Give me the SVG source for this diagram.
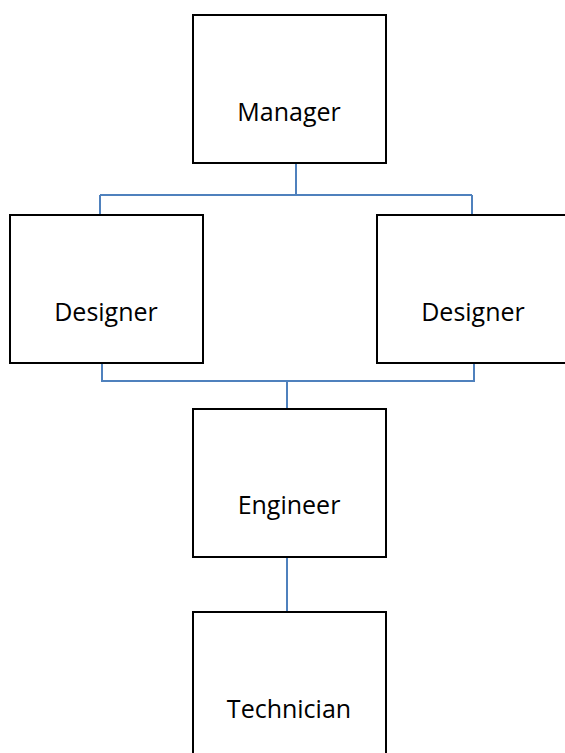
<svg xmlns="http://www.w3.org/2000/svg" width="565" height="753" viewBox="0 0 565 753">
<style>
.box{fill:#fff;stroke:#000;stroke-width:2}
.lbl{font-family:"Open Sans","Liberation Sans",sans-serif;font-size:25px;fill:#000;text-anchor:middle}
.con{fill:none;stroke:#4F81BD;stroke-width:2}
</style>
<rect width="565" height="753" fill="#fff"/>
<g id="connectors">
<path class="con" d="M296 163V195M100 195H472M100 195V222M472 195V222"/>
<path class="con" d="M102 363V381H474V363M287 381V409"/>
<path class="con" d="M287 557V612"/>
</g>
<g id="manager"><rect class="box" x="193" y="15" width="193" height="148"/><text class="lbl" x="289" y="121">Manager</text></g>
<g id="designer-left"><rect class="box" x="10" y="215" width="193" height="148"/><text class="lbl" x="106" y="321">Designer</text></g>
<g id="designer-right"><rect class="box" x="377" y="215" width="193" height="148"/><text class="lbl" x="473" y="321">Designer</text></g>
<g id="engineer"><rect class="box" x="193" y="409" width="193" height="148"/><text class="lbl" x="289" y="514">Engineer</text></g>
<g id="technician"><rect class="box" x="193" y="612" width="193" height="148"/><text class="lbl" x="289" y="718">Technician</text></g>
</svg>
